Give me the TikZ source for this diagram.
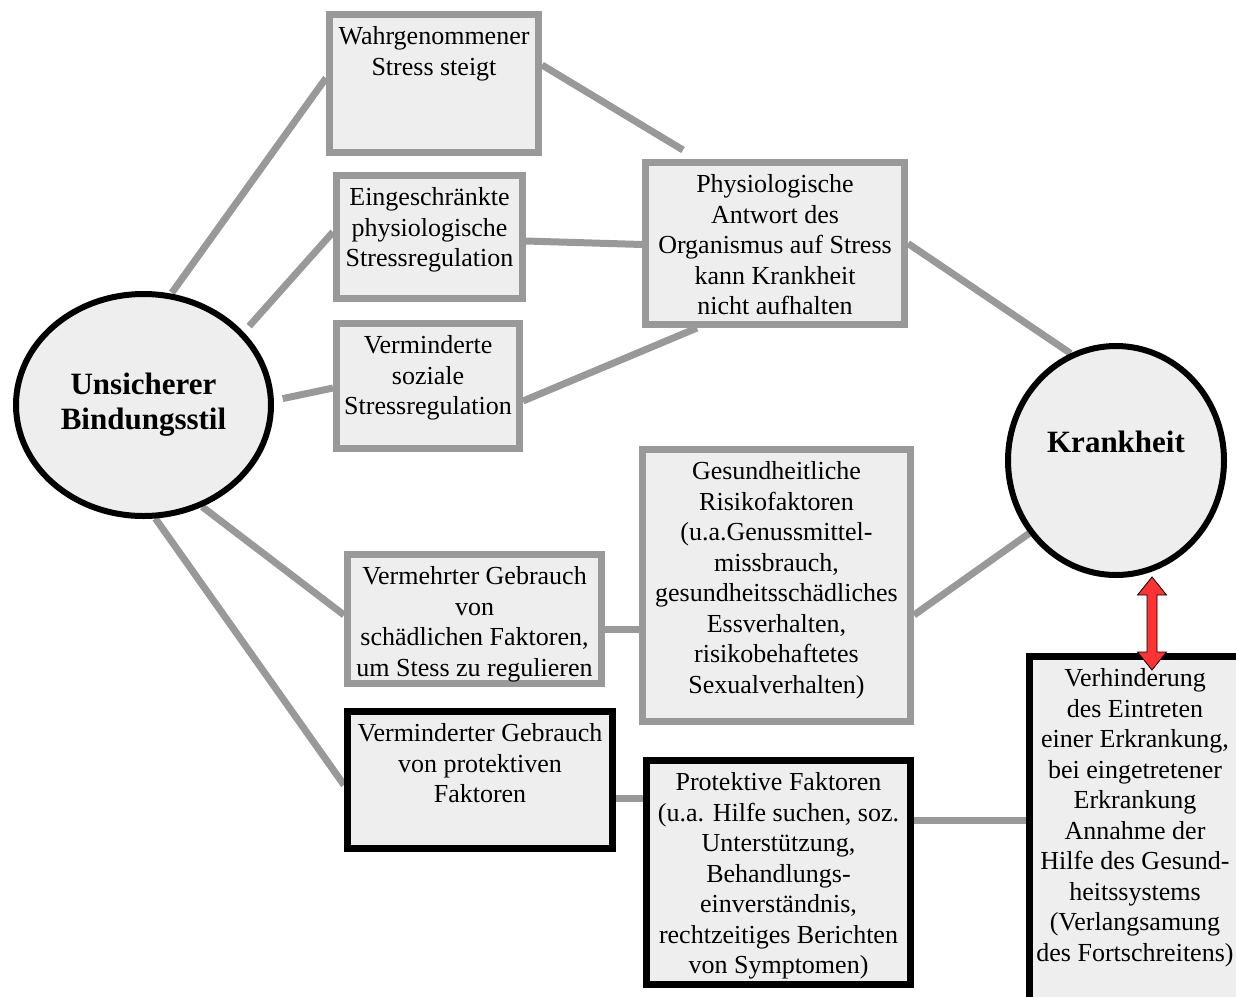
\documentclass[tikz,border=0pt]{standalone}
\usepackage{fontspec}
\setmainfont{Liberation Serif}
\usetikzlibrary{shapes.geometric,calc,backgrounds}
\definecolor{boxfill}{HTML}{EEEEEE}
\definecolor{edgegray}{HTML}{999999}
\definecolor{arrowred}{HTML}{FF3333}
\newcommand\bxt[3]{\parbox[c][#2][t]{#1}{\centering\strut #3\par}}
\begin{document}
\begin{tikzpicture}[x=1pt,y=-1pt,
  gbox/.style={rectangle, draw=edgegray, line width=7pt, fill=boxfill, inner sep=0pt,
    font=\fontsize{26}{30.5}\selectfont},
  kbox/.style={gbox, draw=black},
  bigcirc/.style={ellipse, draw=black, line width=6pt, fill=boxfill, inner sep=0pt,
    align=center, font=\fontsize{31}{35}\selectfont\bfseries},
  conn/.style={draw=edgegray, line width=7pt}]
\useasboundingbox (0,0) rectangle (1236,996);
\clip (0,0) rectangle (1236,996);

% circles
\node[bigcirc, minimum width=255, minimum height=222] (ell) at (143.5,405) {Unsicherer\\Bindungsstil};
\node[bigcirc, minimum width=216, minimum height=229] (krank) at (1116,460.5) {\raisebox{38pt}{Krankheit}};

% boxes
\node[gbox, minimum width=209, minimum height=138] (b1) at (434,83.5)
  {\bxt{205pt}{120pt}{Wahrgenommener\\Stress steigt}};
\node[gbox, minimum width=186, minimum height=123] (b2) at (429.5,237)
  {\bxt{184pt}{105pt}{Eingeschränkte\\physiologische\\Stressregulation}};
\node[gbox, minimum width=183, minimum height=125] (b3) at (428,386)
  {\bxt{181pt}{107pt}{Verminderte\\soziale\\Stressregulation}};
\node[gbox, minimum width=259, minimum height=162] (b4) at (775,243.5)
  {\bxt{255pt}{144pt}{Physiologische\\Antwort des\\Organismus auf Stress\\kann Krankheit\\nicht aufhalten}};
\node[gbox, minimum width=254, minimum height=129] (b5) at (474.5,619)
  {\bxt{250pt}{111pt}{Vermehrter Gebrauch\\von\\schädlichen Faktoren,\\um Stess zu regulieren}};
\node[gbox, minimum width=268, minimum height=272] (b6) at (776.5,585.5)
  {\bxt{264pt}{254pt}{Gesundheitliche\\Risikofaktoren\\(u.a.Genussmittel-\\missbrauch,\\gesundheitsschädliches\\Essverhalten,\\risikobehaftetes\\Sexualverhalten)}};
\node[kbox, minimum width=265, minimum height=137] (b7) at (480,780)
  {\bxt{261pt}{119pt}{Verminderter Gebrauch\\von protektiven\\Faktoren}};
\node[kbox, minimum width=264, minimum height=224] (b8) at (778.5,872.5)
  {\bxt{260pt}{206pt}{Protektive Faktoren\\(u.a. Hilfe suchen, soz.\\Unterstützung,\\Behandlungs-\\einverständnis,\\rechtzeitiges Berichten\\von Symptomen)}};
\node[kbox, minimum width=211, minimum height=350] (b9) at (1135,831.5)
  {\bxt{209pt}{332pt}{Verhinderung\\des Eintreten\\einer Erkrankung,\\bei eingetretener\\Erkrankung\\Annahme der\\Hilfe des Gesund-\\heitssystems\\(Verlangsamung\\des Fortschreitens)}};

% connectors
\begin{scope}[on background layer]
\draw[conn, shorten <=1pt] (ell.76.8) -- ($(b1.west)+(0,-5.5)$);
\draw[conn, shorten <=8pt] (ell.36.7) -- ($(b2.west)+(0,-5)$);
\draw[conn, shorten <=9pt] (ell.2.5) -- ($(b3.west)+(0,2)$);
\draw[conn] (ell.-60.5) -- ($(b5.west)+(0,-4)$);
\draw[conn] (ell.-84) -- ($(b7.west)+(0,5)$);
\draw[conn] ($(b1.east)+(0,-18.5)$) -- ($(b4.north)+(-92,-9)$);
\draw[conn] ($(b2.east)+(0,4)$) -- ($(b4.west)+(0,1)$);
\draw[conn] ($(b3.east)+(0,15)$) -- ($(b4.south)+(-78,0)$);
\draw[conn] (b4.east) -- (krank.113);
\draw[conn] ($(b5.east)+(0,10)$) -- ($(b6.west)+(0,43.5)$);
\draw[conn] ($(b6.east)+(0,29.5)$) -- (krank.-140.5);
\draw[conn] ($(b7.east)+(0,18)$) -- ($(b8.west)+(0,-74.5)$);
\coordinate (p12) at ($(b8.east)+(0,-52)$);
\draw[conn] (p12) -- (p12 -| b9.west);
\end{scope}

% red double arrow
\coordinate (atop) at ($(krank.south)+(36,-1)$);
\coordinate (abot) at ($(b9.north)+(17,17)$);
\draw[fill=arrowred, draw=black, line width=0.8pt, line join=miter]
  (atop) -- ++(14.5,18) -- ++(-9.5,0) -- ($(abot)+(5,-18)$) -- ++(9.5,0) -- (abot)
  -- ++(-14.5,-18) -- ++(9.5,0) -- ($(atop)+(-5,18)$) -- ++(-9.5,0) -- cycle;
\end{tikzpicture}
\end{document}
